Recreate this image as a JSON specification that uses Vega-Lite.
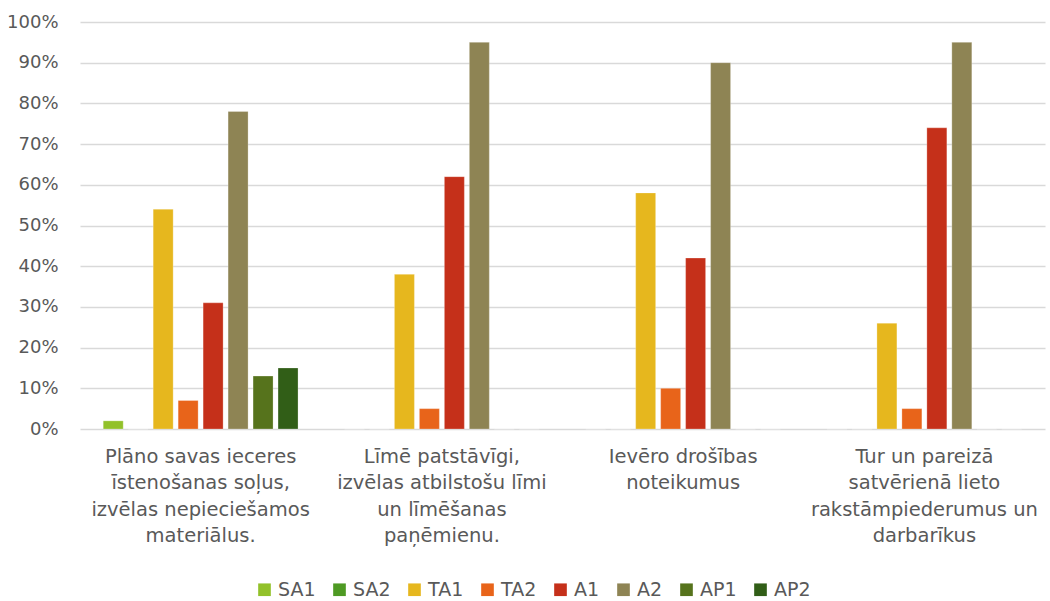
{
  "$schema": "https://vega.github.io/schema/vega-lite/v6.json",
  "width": 965,
  "height": 407,
  "autosize": {"type": "none"},
  "padding": {"left": 80, "top": 22, "right": 5, "bottom": 172},
  "background": "white",
  "config": {
    "font": "DejaVu Sans",
    "view": {"stroke": null}
  },
  "data": {
    "values": [
      {"c": "Plāno savas ieceres\nīstenošanas soļus,\nizvēlas nepieciešamos\nmateriālus.", "s": "SA1", "v": 0.02},
      {"c": "Plāno savas ieceres\nīstenošanas soļus,\nizvēlas nepieciešamos\nmateriālus.", "s": "SA2", "v": 0},
      {"c": "Plāno savas ieceres\nīstenošanas soļus,\nizvēlas nepieciešamos\nmateriālus.", "s": "TA1", "v": 0.54},
      {"c": "Plāno savas ieceres\nīstenošanas soļus,\nizvēlas nepieciešamos\nmateriālus.", "s": "TA2", "v": 0.07},
      {"c": "Plāno savas ieceres\nīstenošanas soļus,\nizvēlas nepieciešamos\nmateriālus.", "s": "A1", "v": 0.31},
      {"c": "Plāno savas ieceres\nīstenošanas soļus,\nizvēlas nepieciešamos\nmateriālus.", "s": "A2", "v": 0.78},
      {"c": "Plāno savas ieceres\nīstenošanas soļus,\nizvēlas nepieciešamos\nmateriālus.", "s": "AP1", "v": 0.13},
      {"c": "Plāno savas ieceres\nīstenošanas soļus,\nizvēlas nepieciešamos\nmateriālus.", "s": "AP2", "v": 0.15},
      {"c": "Līmē patstāvīgi,\nizvēlas atbilstošu līmi\nun līmēšanas\npaņēmienu.", "s": "SA1", "v": 0},
      {"c": "Līmē patstāvīgi,\nizvēlas atbilstošu līmi\nun līmēšanas\npaņēmienu.", "s": "SA2", "v": 0},
      {"c": "Līmē patstāvīgi,\nizvēlas atbilstošu līmi\nun līmēšanas\npaņēmienu.", "s": "TA1", "v": 0.38},
      {"c": "Līmē patstāvīgi,\nizvēlas atbilstošu līmi\nun līmēšanas\npaņēmienu.", "s": "TA2", "v": 0.05},
      {"c": "Līmē patstāvīgi,\nizvēlas atbilstošu līmi\nun līmēšanas\npaņēmienu.", "s": "A1", "v": 0.62},
      {"c": "Līmē patstāvīgi,\nizvēlas atbilstošu līmi\nun līmēšanas\npaņēmienu.", "s": "A2", "v": 0.95},
      {"c": "Līmē patstāvīgi,\nizvēlas atbilstošu līmi\nun līmēšanas\npaņēmienu.", "s": "AP1", "v": 0},
      {"c": "Līmē patstāvīgi,\nizvēlas atbilstošu līmi\nun līmēšanas\npaņēmienu.", "s": "AP2", "v": 0},
      {"c": "Ievēro drošības\nnoteikumus", "s": "SA1", "v": 0},
      {"c": "Ievēro drošības\nnoteikumus", "s": "SA2", "v": 0},
      {"c": "Ievēro drošības\nnoteikumus", "s": "TA1", "v": 0.58},
      {"c": "Ievēro drošības\nnoteikumus", "s": "TA2", "v": 0.10},
      {"c": "Ievēro drošības\nnoteikumus", "s": "A1", "v": 0.42},
      {"c": "Ievēro drošības\nnoteikumus", "s": "A2", "v": 0.90},
      {"c": "Ievēro drošības\nnoteikumus", "s": "AP1", "v": 0},
      {"c": "Ievēro drošības\nnoteikumus", "s": "AP2", "v": 0},
      {"c": "Tur un pareizā\nsatvērienā lieto\nrakstāmpiederumus un\ndarbarīkus", "s": "SA1", "v": 0},
      {"c": "Tur un pareizā\nsatvērienā lieto\nrakstāmpiederumus un\ndarbarīkus", "s": "SA2", "v": 0},
      {"c": "Tur un pareizā\nsatvērienā lieto\nrakstāmpiederumus un\ndarbarīkus", "s": "TA1", "v": 0.26},
      {"c": "Tur un pareizā\nsatvērienā lieto\nrakstāmpiederumus un\ndarbarīkus", "s": "TA2", "v": 0.05},
      {"c": "Tur un pareizā\nsatvērienā lieto\nrakstāmpiederumus un\ndarbarīkus", "s": "A1", "v": 0.74},
      {"c": "Tur un pareizā\nsatvērienā lieto\nrakstāmpiederumus un\ndarbarīkus", "s": "A2", "v": 0.95},
      {"c": "Tur un pareizā\nsatvērienā lieto\nrakstāmpiederumus un\ndarbarīkus", "s": "AP1", "v": 0},
      {"c": "Tur un pareizā\nsatvērienā lieto\nrakstāmpiederumus un\ndarbarīkus", "s": "AP2", "v": 0}
    ]
  },
  "mark": {"type": "bar", "stroke": "white", "strokeOpacity": 0.5, "strokeWidth": 0.5},
  "encoding": {
    "x": {
      "field": "c", "type": "nominal", "sort": null,
      "scale": {"paddingInner": 0, "paddingOuter": 0},
      "axis": {
        "title": null, "labelAngle": 0, "labelExpr": "split(datum.label, '\\n')",
        "labelFontSize": 19.5, "labelColor": "#595959", "labelLineHeight": 26.5,
        "labelPadding": 18, "labelBaseline": "top",
        "ticks": false, "domain": false, "labelLimit": 400
      }
    },
    "xOffset": {
      "field": "s", "type": "nominal",
      "sort": ["SA1", "SA2", "TA1", "TA2", "A1", "A2", "AP1", "AP2"],
      "scale": {"paddingInner": 0.2, "paddingOuter": 0.93}
    },
    "y": {
      "field": "v", "type": "quantitative",
      "scale": {"domain": [0, 1], "nice": false},
      "axis": {
        "title": null, "format": ".0%", "values": [0,0.1,0.2,0.3,0.4,0.5,0.6,0.7,0.8,0.9,1],
        "labelOverlap": false,
        "labelFontSize": 18, "labelColor": "#595959", "labelPadding": 22,
        "ticks": false, "domain": false,
        "grid": true, "gridColor": "#D9D9D9", "gridWidth": 1.5
      }
    },
    "color": {
      "field": "s", "type": "nominal",
      "sort": ["SA1", "SA2", "TA1", "TA2", "A1", "A2", "AP1", "AP2"],
      "scale": {
        "domain": ["SA1", "SA2", "TA1", "TA2", "A1", "A2", "AP1", "AP2"],
        "range": ["#92C12A", "#4E9A23", "#E6B71E", "#E8641A", "#C5301A", "#8E8454", "#56731C", "#315E17"]
      },
      "legend": {
        "title": null, "orient": "none", "direction": "horizontal",
        "legendX": 175, "legendY": 558,
        "symbolType": "square", "symbolSize": 160, "symbolStrokeWidth": 0,
        "labelFontSize": 19, "labelColor": "#595959", "columnPadding": 14,
        "labelOffset": 4
      }
    }
  }
}
